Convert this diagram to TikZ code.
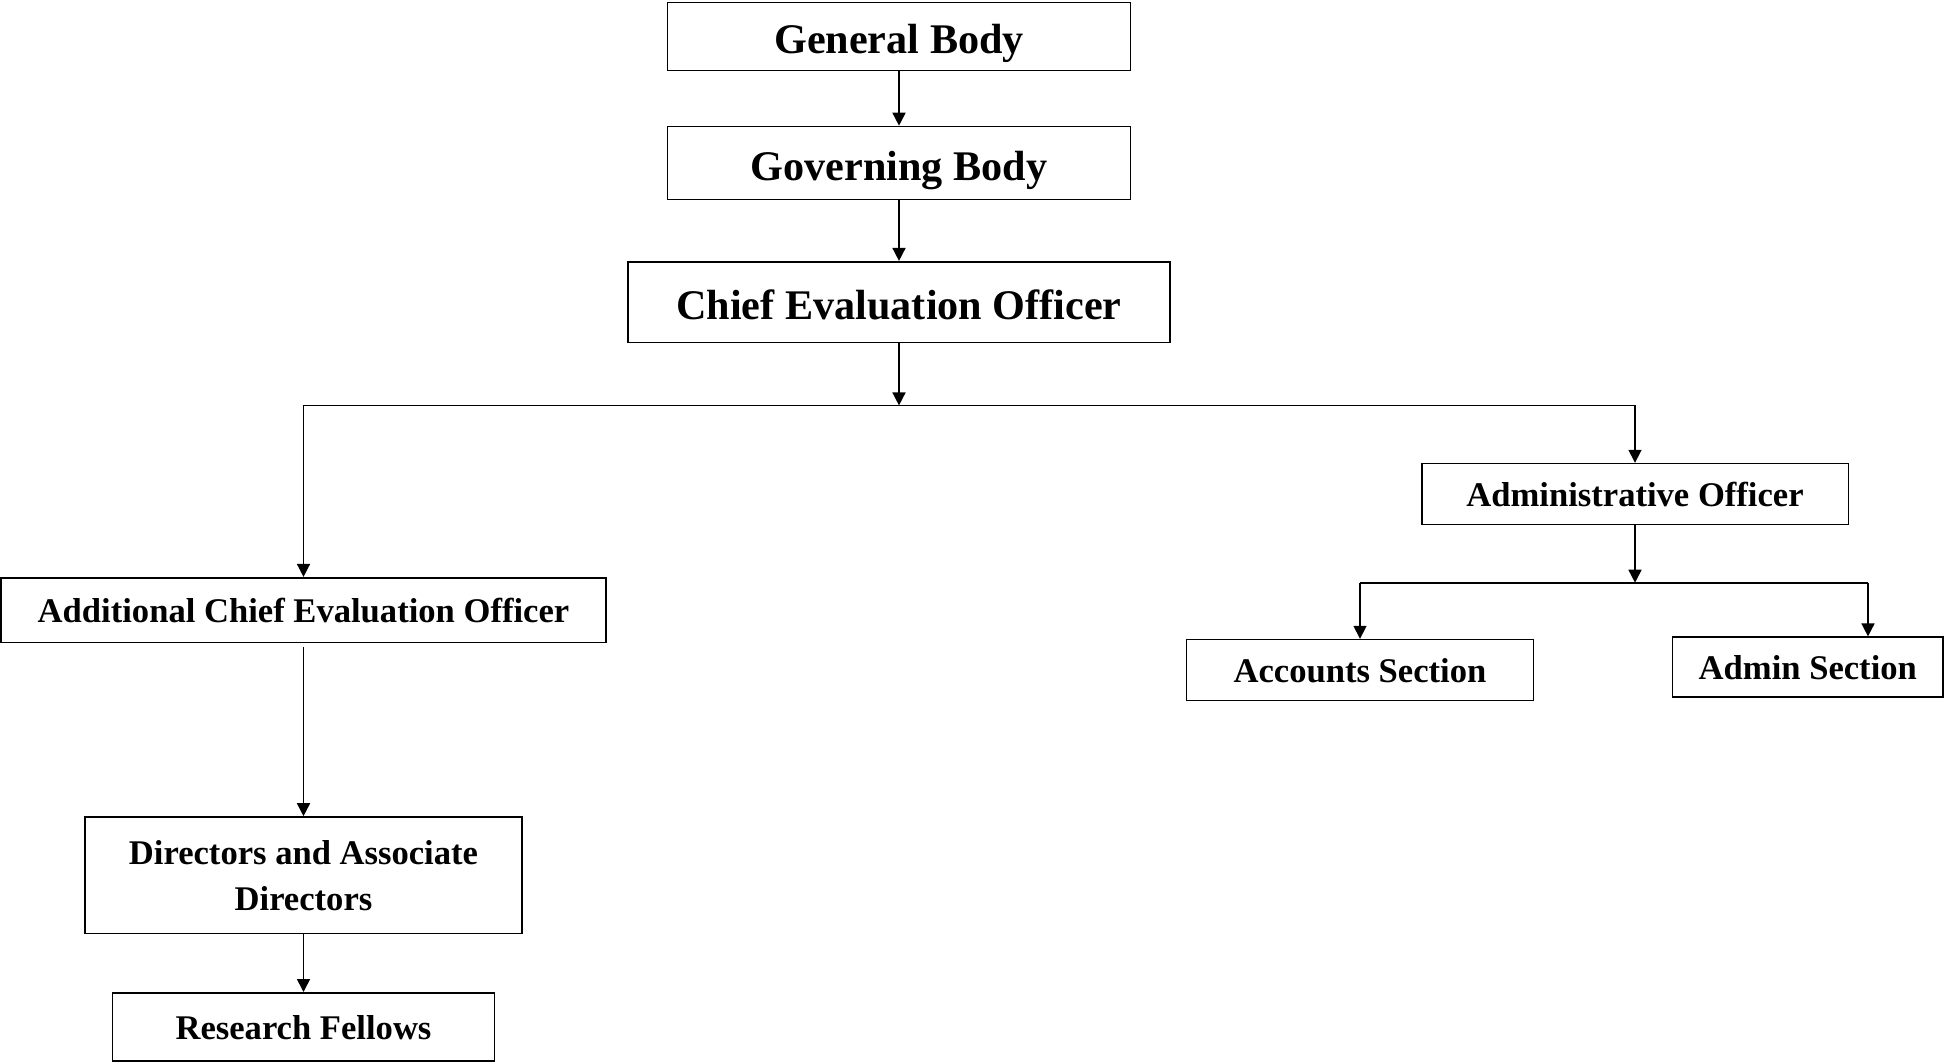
\documentclass[tikz,border=0pt]{standalone}
\usepackage{fontspec}
\setmainfont{Liberation Serif}
\usetikzlibrary{arrows.meta}

\begin{document}
\begin{tikzpicture}[
      x=0.5pt, y=-0.5pt,
      box/.style={
        draw=black, line width=0.8pt, fill=white, inner sep=0pt, align=center,
        font=\bfseries\fontsize{17.3}{23}\selectfont
      },
      onebox/.style={box, text height=13.5pt, text depth=0.8pt},
      bigbox/.style={box, font=\bfseries\fontsize{21.1}{26}\selectfont,
        text height=17.2pt, text depth=0pt},
      line width=0.8pt, >={Triangle[length=6.5pt,width=6.5pt]}
      ]
      \useasboundingbox (0,0) rectangle (1944,1062);

      \node[bigbox, minimum width=231.5pt, minimum height=34pt]   (gb)  at (899,36.6) {General Body};
      \node[bigbox, minimum width=231.5pt, minimum height=36.5pt] (gov) at (899,163) {Governing Body};
      \node[bigbox, minimum width=271pt, minimum height=40.3pt]   (ceo) at (899,302) {Chief Evaluation Officer};
      \node[onebox, minimum width=302.5pt, minimum height=32.3pt] (aceo) at (303.5,610) {Additional Chief Evaluation Officer};
      \node[box, minimum width=218.3pt, minimum height=58.3pt]    (dad) at (303.5,875.3) {Directors and Associate\\Directors};
      \node[onebox, minimum width=190.9pt, minimum height=34.2pt] (rf)  at (303.5,1027) {Research Fellows};
      \node[onebox, minimum width=213.3pt, minimum height=30.4pt] (ao)  at (1635,494) {Administrative Officer};
      \node[onebox, minimum width=173.5pt, minimum height=30.4pt] (acc) at (1360,670) {Accounts Section};
      \node[onebox, minimum width=135.3pt, minimum height=29.8pt] (adms) at (1807.8,667) {Admin Section};

      \coordinate (bus) at (899,405.4);
      \coordinate (sub) at (1635,582.7);
      \coordinate (subR) at (1868,582.7);

  % Connect the nodes
  \draw[->] (gb.south) -- (gov.north);
  \draw[->] (gov.south) -- (ceo.north);
  \draw[->] (ceo.south) -- (bus);
  \draw (aceo.north |- bus) -- (ao.north |- bus);
  \draw[->] (aceo.north |- bus) -- (aceo.north);
  \draw[->] (ao.north |- bus) -- (ao.north);
  \draw[->] (ao.south) -- (sub);
  \draw (acc.north |- sub) -- (subR);
  \draw[->] (acc.north |- sub) -- (acc.north);
  \draw[->] (subR) -- (subR |- adms.north);
  \draw[->, shorten <=2pt] (aceo.south) -- (dad.north);
  \draw[->] (dad.south) -- (rf.north);

\end{tikzpicture}
\end{document}
